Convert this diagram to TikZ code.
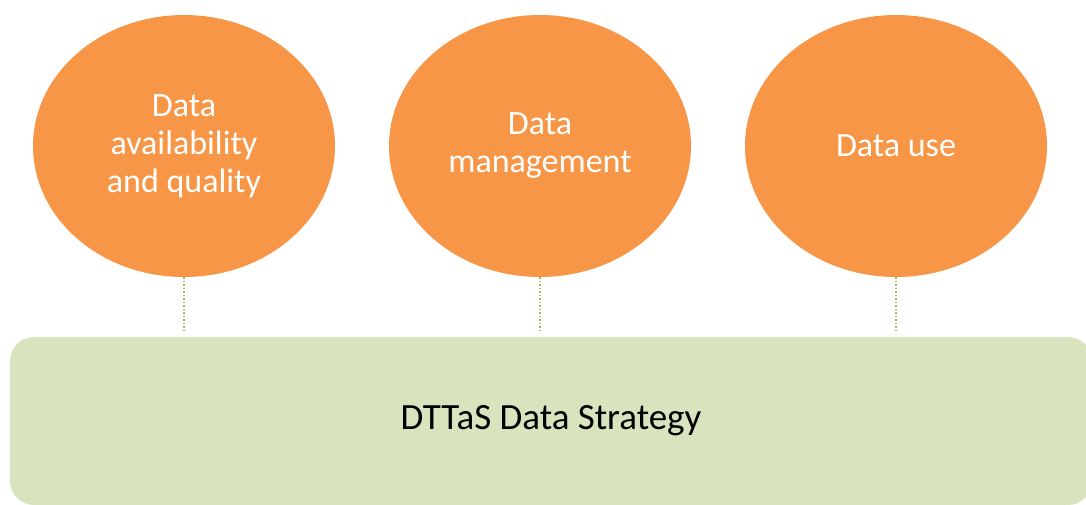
\documentclass[tikz,border=0pt]{standalone}
\usepackage{fontspec}
\setmainfont{Carlito}
\usetikzlibrary{shapes.geometric, positioning}
\definecolor{pillarorange}{HTML}{F79646}
\definecolor{basegreen}{HTML}{D7E4BD}
\definecolor{linkgreen}{HTML}{9BBB59}
\tikzstyle{pillar} = [ellipse, minimum width=302pt, minimum height=262pt, inner sep=0pt, fill=pillarorange, text=white, align=center, font=\fontsize{34}{38}\selectfont]
\tikzstyle{strategy} = [rectangle, rounded corners=24pt, minimum width=1082pt, minimum height=168pt, fill=basegreen, text=black, font=\fontsize{37}{44}\selectfont]
\tikzstyle{link} = [draw=linkgreen, line width=1.5pt, dotted, shorten >=6pt]

\begin{document}
\begin{tikzpicture}[x=1pt, y=-1pt, node distance=356pt]
\useasboundingbox (0,0) rectangle (1086,504);
% Pillars
\node (avail) [pillar] at (184,146) {Data\\availability\\and quality};
\node (manage) [pillar, right of=avail] {Data\\management};
\node (use) [pillar, right of=manage] {Data use};

% Base
\node (dttas) [strategy] at (551,421) {DTTaS Data Strategy};

% Dotted links
\draw [link] (avail.south) -- (avail.south |- dttas.north);
\draw [link] (manage.south) -- (manage.south |- dttas.north);
\draw [link] (use.south) -- (use.south |- dttas.north);

\end{tikzpicture}
\end{document}
